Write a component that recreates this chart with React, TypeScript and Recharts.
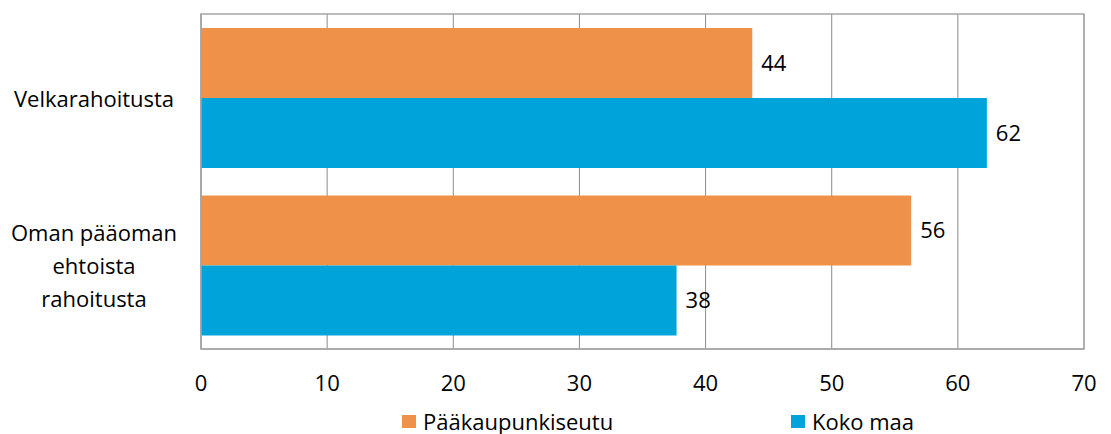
import React from "react";
import {
  BarChart,
  Bar,
  XAxis,
  YAxis,
  CartesianGrid,
  LabelList,
  Legend,
  ReferenceArea,
} from "recharts";

const categories = ["Velkarahoitusta", "Oman pääoman ehtoista rahoitusta"];
const paakaupunkiseutu = [43.7, 56.3];
const kokoMaa = [62.3, 37.7];
const xTicks = [0, 10, 20, 30, 40, 50, 60, 70];

const ORANGE = "#F0914A";
const BLUE = "#00A3DA";
const FONT = "'Open Sans', sans-serif";
const FS = 22;

const data = categories.map((name, i) => ({
  name,
  paakaupunkiseutu: paakaupunkiseutu[i],
  kokoMaa: kokoMaa[i],
}));

// wrapped labels like the original
const tickLines: Record<string, string[]> = {
  Velkarahoitusta: ["Velkarahoitusta"],
  "Oman pääoman ehtoista rahoitusta": ["Oman pääoman", "ehtoista", "rahoitusta"],
};

const CategoryTick = (props: any) => {
  const { y, payload } = props;
  const lines = tickLines[payload.value] || [payload.value];
  const cx = 86;
  const lh = 33;
  const start = y - ((lines.length - 1) * lh) / 2;
  return (
    <text
      x={cx}
      y={start}
      textAnchor="middle"
      dominantBaseline="central"
      fontSize={FS}
      fontFamily={FONT}
      fill="#000"
    >
      {lines.map((l, i) => (
        <tspan key={i} x={cx} y={start + i * lh} dominantBaseline="central">
          {l}
        </tspan>
      ))}
    </text>
  );
};

const LegendContent = () => (
  <div style={{ position: "relative", height: 20, fontFamily: FONT, fontSize: FS, lineHeight: "20px" }}>
    {[
      { label: "Pääkaupunkiseutu", color: ORANGE, left: 394 },
      { label: "Koko maa", color: BLUE, left: 783 },
    ].map((it) => (
      <div
        key={it.label}
        style={{
          position: "absolute",
          left: it.left,
          top: 0,
          height: 20,
          display: "flex",
          alignItems: "center",
          whiteSpace: "nowrap",
        }}
      >
        <span
          style={{
            display: "inline-block",
            width: 14,
            height: 13,
            background: it.color,
            marginRight: 7,
          }}
        />
        <span>{it.label}</span>
      </div>
    ))}
  </div>
);

export default function App() {
  return (
    <BarChart
      width={1103}
      height={426}
      data={data}
      layout="vertical"
      margin={{ top: 6, right: 27, bottom: 55, left: 0 }}
      barGap={0}
      style={{ fontFamily: FONT }}
    >
      <CartesianGrid horizontal={false} stroke="#8C8C8C" strokeWidth={1} />
      <ReferenceArea x1={0} x2={70} fill="none" stroke="#A6A6A6" strokeWidth={1.5} />
      <XAxis
        type="number"
        domain={[0, 70]}
        ticks={xTicks}
        interval={0}
        tickLine={false}
        tickSize={0}
        tickMargin={26}
        axisLine={{ stroke: "#A6A6A6", strokeWidth: 1.5 }}
        height={30}
        tick={{ fontSize: FS, fill: "#000", fontFamily: FONT }}
      />
      <YAxis
        type="category"
        dataKey="name"
        width={193}
        axisLine={{ stroke: "#A6A6A6", strokeWidth: 1.5 }}
        tickLine={false}
        tick={<CategoryTick />}
      />
      <Legend
        layout="horizontal"
        verticalAlign="middle"
        align="center"
        wrapperStyle={{ top: 403, left: 0, width: 1103 }}
        content={<LegendContent />}
      />
      <Bar dataKey="paakaupunkiseutu" fill={ORANGE} barSize={70} isAnimationActive={false}>
        <LabelList
          dataKey="paakaupunkiseutu"
          position="right"
          offset={9}
          formatter={(v: any) => Math.round(Number(v))}
          style={{ fontSize: FS, fill: "#000", fontFamily: FONT }}
        />
      </Bar>
      <Bar dataKey="kokoMaa" fill={BLUE} barSize={70} isAnimationActive={false}>
        <LabelList
          dataKey="kokoMaa"
          position="right"
          offset={9}
          formatter={(v: any) => Math.round(Number(v))}
          style={{ fontSize: FS, fill: "#000", fontFamily: FONT }}
        />
      </Bar>
    </BarChart>
  );
}
